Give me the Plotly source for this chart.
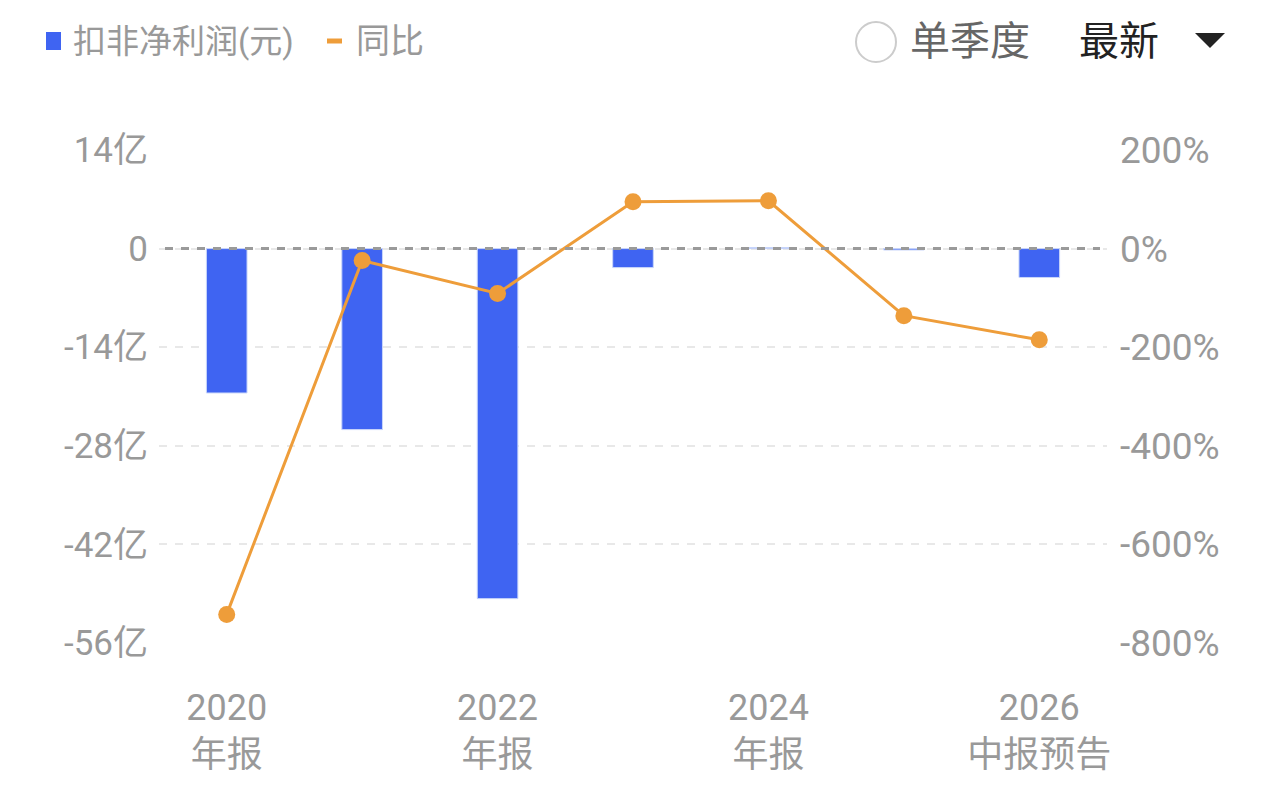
import plotly.graph_objects as go

# ---- data ----
categories = ["2020年报", "2021年报", "2022年报", "2023年报", "2024年报", "2025年报", "2026中报预告"]
profit_yi = [-20.5, -25.7, -49.7, -2.7, 0.15, -0.2, -4.1]      # 扣非净利润 (亿元)
yoy_pct = [-742, -24, -91, 95, 97, -136, -185]                  # 同比 (%)
x_tick_vals = ["2020年报", "2022年报", "2024年报", "2026中报预告"]
x_tick_text = ["2020<br>年报", "2022<br>年报", "2024<br>年报", "2026<br>中报预告"]
left_ticks = [14, 0, -14, -28, -42, -56]
left_tick_text = ["14亿", "0", "-14亿", "-28亿", "-42亿", "-56亿"]
right_ticks = [200, 0, -200, -400, -600, -800]
right_tick_text = ["200%", "0%", "-200%", "-400%", "-600%", "-800%"]

BLUE = "#3F64F2"
ORANGE = "#EE9D3A"
GRAY = "#999999"
FONT = "Roboto, 'Noto Sans CJK SC', sans-serif"

OFF = 8  # page body margin
W, H = 1280, 796
L, T = 159 - OFF, 150 - OFF
R, B = W - (1107 - OFF), H - (643 - OFF)
PW, PH = W - L - R, H - T - B


def px(x):
    return (x - OFF - L) / PW


def py(y):
    return 1 - (y - OFF - T) / PH


fig = go.Figure()
fig.add_trace(go.Bar(
    x=categories, y=profit_yi, marker=dict(color=BLUE, line=dict(color="#c9d6fa", width=1)),
    width=0.3, name="扣非净利润(元)", yaxis="y", hoverinfo="skip"))
fig.add_trace(go.Scatter(
    x=categories, y=yoy_pct, mode="lines+markers", name="同比", yaxis="y2",
    line=dict(color=ORANGE, width=3), marker=dict(color=ORANGE, size=17), hoverinfo="skip"))

fig.update_layout(
    width=W, height=H, margin=dict(l=L, r=R, t=T, b=B),
    paper_bgcolor="white", plot_bgcolor="white", showlegend=False,
    font=dict(family=FONT, color=GRAY),
    xaxis=dict(type="category", categoryorder="array", categoryarray=categories,
               range=[-0.5, 6.5], tickmode="array", tickvals=x_tick_vals, ticktext=x_tick_text,
               showgrid=False, zeroline=False, showline=False, ticks="", ticklabelstandoff=40,
               tickfont=dict(size=36, color=GRAY, family=FONT)),
    yaxis=dict(range=[-56, 14], tickmode="array", tickvals=left_ticks, ticktext=left_tick_text,
               showgrid=True, gridcolor="#e8e8e8", gridwidth=2, griddash="8px,8px",
               zeroline=False, showline=False, ticks="", ticklabelstandoff=10,
               tickfont=dict(size=35, color=GRAY, family=FONT)),
    yaxis2=dict(range=[-800, 200], overlaying="y", side="right", tickmode="array",
                tickvals=right_ticks, ticktext=right_tick_text, showgrid=False,
                zeroline=False, showline=False, ticks="", ticklabelstandoff=12,
                tickfont=dict(size=37, color=GRAY, family=FONT)),
)

shapes = []
# zero reference line (dashed, darker)
shapes.append(dict(type="line", xref="paper", yref="y", x0=px(165), x1=px(1100), y0=0, y1=0,
                   line=dict(color="#9a9a9a", width=3, dash="8px,8px"), layer="above"))
# legend: blue square
shapes.append(dict(type="rect", xref="paper", yref="paper", x0=px(46), x1=px(61), y0=py(50), y1=py(32),
                   fillcolor=BLUE, line=dict(width=0)))
# legend: orange dash
shapes.append(dict(type="line", xref="paper", yref="paper", x0=px(327), x1=px(342), y0=py(41), y1=py(41),
                   line=dict(color=ORANGE, width=5)))
# radio circle
shapes.append(dict(type="circle", xref="paper", yref="paper", x0=px(856), x1=px(896), y0=py(62), y1=py(22),
                   line=dict(color="#cccccc", width=2), fillcolor="white"))
# dropdown triangle
shapes.append(dict(type="path", xref="paper", yref="paper",
                   path=f"M {px(1195)} {py(33)} L {px(1225)} {py(33)} L {px(1210)} {py(48)} Z",
                   fillcolor="#222222", line=dict(width=0)))
fig.update_layout(shapes=shapes)

annotations = [
    dict(text="扣非净利润(元)", x=px(71), y=py(41), xanchor="left", yanchor="middle",
         font=dict(size=33, color=GRAY, family=FONT)),
    dict(text="同比", x=px(354), y=py(41), xanchor="left", yanchor="middle",
         font=dict(size=34, color=GRAY, family=FONT)),
    dict(text="单季度", x=px(908), y=py(41), xanchor="left", yanchor="middle",
         font=dict(size=40, color="#666666", family=FONT)),
    dict(text="最新", x=px(1077), y=py(41), xanchor="left", yanchor="middle",
         font=dict(size=40, color="#222222", family=FONT)),
]
for a in annotations:
    a.update(xref="paper", yref="paper", showarrow=False)
fig.update_layout(annotations=annotations)

fig.write_html("out.html")
